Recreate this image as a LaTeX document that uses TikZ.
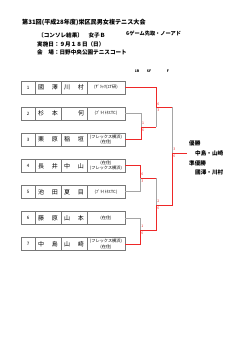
\documentclass[tikz,border=0pt]{standalone}
\usepackage{fontspec}
\setmainfont{Noto Sans CJK JP}
\usepackage{tikz}
\definecolor{winred}{RGB}{238,40,40}
\definecolor{losegray}{RGB}{165,165,165}
\definecolor{boxgray}{RGB}{120,120,120}
\newcommand{\fs}[1]{\fontsize{#1}{#1}\selectfont}
\newcommand{\entryrow}[5]{%
  \node[cell, numcell] (n#1) at (28,#2) {#1};
  \node[cell, namecell] (a#1) at (48,#2) {#3};
  \node[cell, namecell] (b#1) at (74,#2) {#4};
  \node[cell, clubcell] (r#1) at (106,#2) {#5};
}

\begin{document}
\begin{tikzpicture}[x=1pt, y=-1pt,
  cell/.style={draw=boxgray, line width=0.7pt, minimum height=13pt, inner sep=0pt},
  numcell/.style={minimum width=14pt, font=\fs{4.5}},
  namecell/.style={minimum width=26pt, text width=20pt, inner xsep=3pt, font=\fs{6}},
  clubcell/.style={minimum width=38pt, align=center, font=\fs{4.2}},
  win/.style={draw=winred, line width=0.9pt},
  lose/.style={draw=losegray, line width=0.9pt},
  score/.style={text=winred, font=\fs{3.5}, anchor=west, inner sep=0.3pt},
  head/.style={anchor=west, inner sep=0pt, font=\bfseries\fs{5.6}}]

  \useasboundingbox (0,0) rectangle (250,353);

  % heading
  \node[head, font=\bfseries\fs{6.1}] (title) at (22,22) {第31回(平成28年度)栄区民男女複テニス大会};
  \node[head] (kind) at (38,35) {〔コンソレ結果〕　女子Ｂ};
  \node[head, font=\bfseries\fs{5.2}] (rule) at (126,34) {6ゲーム先取・ノーアド};
  \node[head] (date) at (37,44) {実施日：９月１８日（日）};
  \node[head] (site) at (37,52) {会　場：日野中央公園テニスコート};

  \node[font=\bfseries\fs{3.4}] (h1) at (137,71) {1R};
  \node[font=\bfseries\fs{3.4}] (h2) at (149,71) {SF};
  \node[font=\bfseries\fs{3.4}] (h3) at (168,71) {F};

  % entries
  \entryrow{1}{87.5}{國\hfill 澤}{川\hfill 村}{(ｻﾞﾗｯｸ(ｴT研)}
  \entryrow{2}{113.6}{杉\hfill 本}{\hfill 何}{(ﾌﾞﾗｲﾄﾈｽTC)}
  \entryrow{3}{139.7}{栗\hfill 原}{稲\hfill 垣}{(フレックス横浜)\\(在住)}
  \entryrow{4}{165.8}{長\hfill 井}{中\hfill 山}{(在住)\\(フレックス横浜)}
  \entryrow{5}{191.9}{池\hfill 田}{夏\hfill 目}{(ﾌﾞﾗｲﾄﾈｽTC)}
  \entryrow{6}{218}{藤\hfill 原}{山\hfill 本}{(在住)}
  \entryrow{7}{244.1}{中\hfill 島}{山\hfill 崎}{(フレックス横浜)\\(在住)}

  % bracket
  \coordinate (q1) at (141,127);
  \coordinate (q1r) at (156,127);
  \coordinate (s1) at (156,107);
  \coordinate (s1r) at (172,107);
  \coordinate (q2) at (140,178);
  \coordinate (q2r) at (156,178);
  \coordinate (q3) at (140,230);
  \coordinate (q3r) at (156,230);
  \coordinate (s2) at (156,205);
  \coordinate (s2r) at (172,205);
  \coordinate (fin) at (172,153);
  \coordinate (finr) at (187,153);

  \draw[lose] (r2.east) -| (q1);
  \draw[win] (r3.east) -| (q1) -- (q1r);
  \draw[lose] (q1r) -- (s1);
  \draw[win] (r1.east) -| (s1) -- (s1r);
  \draw[lose] (s1r) -- (fin);

  \draw[win] (r4.east) -| (q2) -- (q2r);
  \draw[lose] (r5.east) -| (q2);
  \draw[lose] (q2r) -- (s2);
  \draw[lose] (r6.east) -| (q3);
  \draw[win] (r7.east) -| (q3) -- (q3r) -- (s2) -- (s2r) -- (fin) -- (finr);

  % scores
  \node[score] (c1a) at (141.5,123) {1};
  \node[score] (c1b) at (141.5,130.5) {6};
  \node[score] (c2a) at (156.8,104) {6};
  \node[score] (c2b) at (156.8,110.5) {3};
  \node[score] (c3a) at (140.8,174.5) {6};
  \node[score] (c3b) at (140.8,181.5) {3};
  \node[score] (c4a) at (140.8,226.5) {1};
  \node[score] (c4b) at (140.8,233.5) {6};
  \node[score] (c5a) at (156.8,201.5) {2};
  \node[score] (c5b) at (156.8,208.5) {6};
  \node[score] (c6a) at (172.8,149.5) {3};
  \node[score] (c6b) at (172.8,156.5) {6};

  % result
  \node[head] (v1) at (189,143.5) {優勝};
  \node[head] (v1n) at (195,153) {中島・山崎};
  \node[head] (v2) at (189,163) {準優勝};
  \node[head] (v2n) at (195,172.5) {國澤・川村};
\end{tikzpicture}
\end{document}
